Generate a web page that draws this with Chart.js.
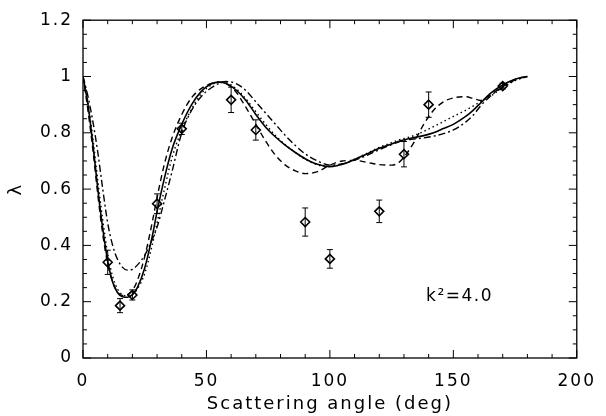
<!DOCTYPE html>
<html>
<head>
<meta charset="utf-8">
<script src="https://cdn.jsdelivr.net/npm/chart.js@4"></script>
<style>
  html, body { margin: 0; padding: 0; background: #fff; }
  #wrap { width: 606px; height: 416px; }
</style>
</head>
<body>
<div id="wrap"><canvas id="myChart" width="606" height="416"></canvas></div>
<script>
// angle grid shared by the four model curves
const angles = [0,2,4,6,8,10,12,14,16,18,20,22,25,28,30,33,36,40,44,48,52,55,58,62,66,70,74,78,82,86,90,95,100,105,110,115,120,125,128,131,134,138,142,146,150,155,158,161,165,170,175,180];

const solidVals = [1.0,0.9,0.76,0.6,0.46,0.345,0.27,0.232,0.218,0.216,0.225,0.25,0.32,0.43,0.52,0.64,0.74,0.83,0.9,0.948,0.974,0.98,0.975,0.952,0.915,0.865,0.82,0.785,0.755,0.73,0.708,0.688,0.68,0.688,0.705,0.725,0.745,0.76,0.77,0.777,0.783,0.79,0.8,0.815,0.83,0.858,0.88,0.905,0.94,0.97,0.99,1.0];
const dashedVals = [1.0,0.88,0.74,0.58,0.44,0.335,0.27,0.235,0.222,0.225,0.24,0.275,0.36,0.48,0.57,0.69,0.78,0.865,0.925,0.958,0.975,0.98,0.975,0.945,0.89,0.83,0.77,0.72,0.685,0.665,0.655,0.662,0.685,0.7,0.702,0.695,0.687,0.685,0.695,0.725,0.765,0.83,0.88,0.91,0.924,0.928,0.922,0.915,0.935,0.965,0.99,1.0];
const dottedVals = [1.0,0.91,0.78,0.63,0.49,0.37,0.29,0.245,0.225,0.22,0.226,0.245,0.3,0.4,0.48,0.6,0.71,0.81,0.885,0.94,0.97,0.98,0.978,0.957,0.92,0.875,0.83,0.79,0.757,0.73,0.706,0.686,0.68,0.688,0.706,0.727,0.748,0.765,0.775,0.782,0.79,0.805,0.822,0.84,0.858,0.88,0.895,0.91,0.93,0.96,0.985,1.0];
const dashDotVals = [1.0,0.93,0.84,0.73,0.6,0.48,0.4,0.35,0.322,0.312,0.315,0.33,0.365,0.42,0.465,0.56,0.66,0.8,0.88,0.93,0.96,0.975,0.982,0.975,0.95,0.91,0.87,0.83,0.79,0.755,0.725,0.7,0.685,0.69,0.703,0.72,0.74,0.758,0.768,0.775,0.778,0.782,0.788,0.797,0.81,0.838,0.862,0.895,0.93,0.962,0.988,1.0];

// measured points with error bars
const measAngles = [10,15,20,30,40,60,70,90,100,120,130,140,170];
const measVals   = [0.34,0.186,0.224,0.548,0.814,0.917,0.81,0.483,0.352,0.521,0.724,0.9,0.966];
const measErrs   = [0.043,0.025,0.018,0.035,0.02,0.045,0.036,0.05,0.033,0.04,0.045,0.045,0.01];

const xTicks = [0,50,100,150,200];
const yTicks = [0,0.2,0.4,0.6,0.8,1,1.2];

const FONT = "DejaVu Sans";

function curve(vals){
  return angles.map((a,i) => ({x:a, y:vals[i]}));
}

// error bars as line segments separated by gaps
const errData = [];
measAngles.forEach((a,i) => {
  errData.push({x:a, y:measVals[i]-measErrs[i]});
  errData.push({x:a, y:measVals[i]+measErrs[i]});
  errData.push({x:a, y:null});
});

// wide lettering like the old plot font
const spacing = {
  id: "spacing",
  beforeDraw(chart){ chart.ctx.letterSpacing = "2px"; }
};

// inward ticks on all four sides + frame + label
const frameTicks = {
  id: "frameTicks",
  afterDraw(chart){
    const ctx = chart.ctx;
    const xs = chart.scales.x, ys = chart.scales.y;
    const a = chart.chartArea;
    ctx.save();
    ctx.strokeStyle = "#000";
    ctx.lineWidth = 1.3;
    ctx.strokeRect(a.left, a.top, a.right - a.left, a.bottom - a.top);
    ctx.lineWidth = 1;
    ctx.beginPath();
    for (let v = 0; v <= 200; v += 10) {
      const px = xs.getPixelForValue(v);
      const len = v % 50 === 0 ? 8 : 4;
      ctx.moveTo(px, a.bottom); ctx.lineTo(px, a.bottom - len);
      ctx.moveTo(px, a.top); ctx.lineTo(px, a.top + len);
    }
    for (let k = 0; k <= 24; k++) {
      const v = k * 0.05;
      const py = ys.getPixelForValue(v);
      const len = k % 4 === 0 ? 8 : 4;
      ctx.moveTo(a.left, py); ctx.lineTo(a.left + len, py);
      ctx.moveTo(a.right, py); ctx.lineTo(a.right - len, py);
    }
    ctx.stroke();
    ctx.fillStyle = "#000";
    ctx.font = "17px '" + FONT + "'";
    ctx.letterSpacing = "1.5px";
    ctx.textAlign = "center";
    ctx.textBaseline = "middle";
    ctx.fillText("k\u00b2=4.0", xs.getPixelForValue(152.5), ys.getPixelForValue(0.217));
    ctx.restore();
  }
};

const lineBase = {
  showLine: true,
  pointRadius: 0,
  borderColor: "#000",
  borderWidth: 1.4,
  fill: false,
  cubicInterpolationMode: "monotone"
};

const myChart = new Chart("myChart", {
  type: "scatter",
  data: {
    datasets: [
      Object.assign({}, lineBase, {label: "solid", data: curve(solidVals), borderWidth: 1.6}),
      Object.assign({}, lineBase, {label: "dashed", data: curve(dashedVals), borderDash: [6,4]}),
      Object.assign({}, lineBase, {label: "dotted", data: curve(dottedVals), borderDash: [1.5,3]}),
      Object.assign({}, lineBase, {label: "dashdot", data: curve(dashDotVals), borderDash: [7,3,2,3]}),
      {
        label: "err",
        data: errData,
        showLine: true,
        spanGaps: false,
        borderColor: "#000",
        borderWidth: 1,
        pointStyle: "line",
        pointRadius: 3,
        pointBorderColor: "#000",
        pointBorderWidth: 1
      },
      {
        label: "data",
        data: measAngles.map((a,i) => ({x:a, y:measVals[i]})),
        showLine: false,
        pointStyle: "rectRot",
        pointRadius: 4.5,
        pointBackgroundColor: "#fff",
        pointBorderColor: "#000",
        pointBorderWidth: 1.6
      }
    ]
  },
  options: {
    responsive: false,
    animation: false,
    events: [],
    layout: { padding: { top: 13, right: 19, left: 0, bottom: 0 } },
    plugins: { legend: { display: false }, tooltip: { enabled: false } },
    scales: {
      x: {
        type: "linear",
        min: 0, max: 200,
        afterBuildTicks: s => { s.ticks = xTicks.map(v => ({value: v})); },
        afterFit: s => { s.height = 58; },
        grid: { display: false, drawTicks: false },
        border: { display: false },
        ticks: { color: "#000", padding: 13, font: { family: FONT, size: 17 }, maxRotation: 0 },
        title: { display: true, text: "Scattering angle (deg)", color: "#000", padding: {top: 0, bottom: 1}, font: { family: FONT, size: 18 } }
      },
      y: {
        type: "linear",
        min: 0, max: 1.2,
        afterBuildTicks: s => { s.ticks = yTicks.map(v => ({value: v})); },
        afterFit: s => { s.width = 83; },
        grid: { display: false, drawTicks: false },
        border: { display: false },
        ticks: { color: "#000", padding: 10, font: { family: FONT, size: 17 },
                 callback: v => String(+v.toFixed(1)) },
        title: { display: true, text: "λ", color: "#000", padding: {top: 6, bottom: 0}, font: { family: FONT, size: 18 } }
      }
    }
  },
  plugins: [spacing, frameTicks]
});
</script>
</body>
</html>
